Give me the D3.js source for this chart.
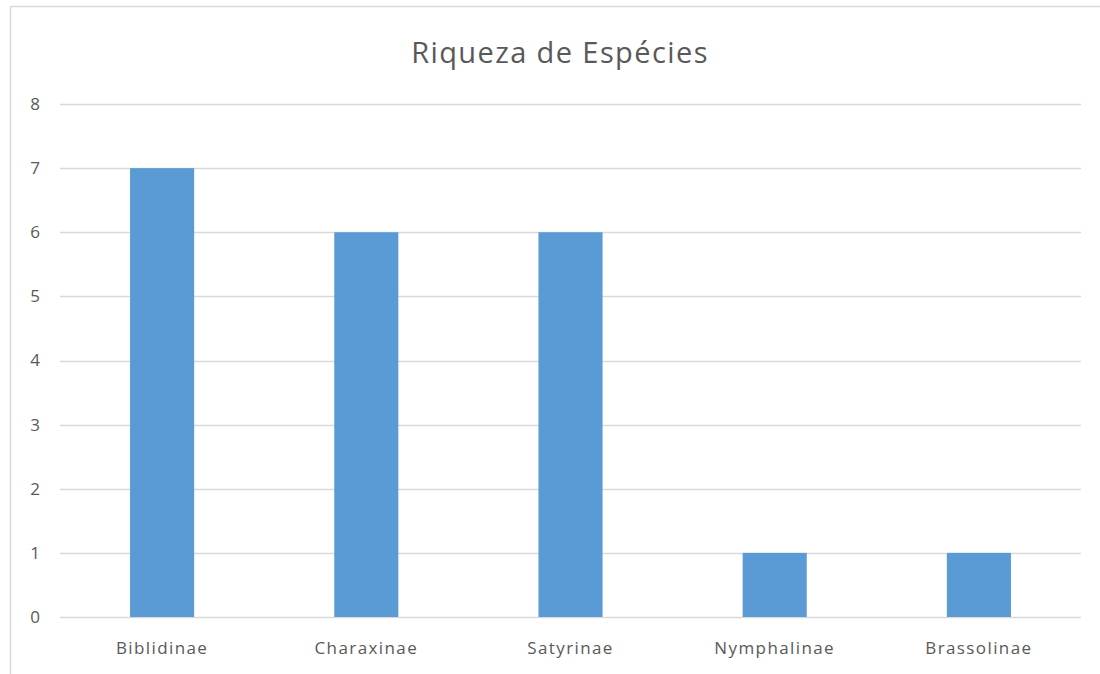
<!DOCTYPE html>
<html>
<head>
<meta charset="utf-8">
<script src="https://cdn.jsdelivr.net/npm/d3@7"></script>
<style>
	body { margin: 0; background: #fff; }
	svg { display: block; font-family: "Open Sans", "Liberation Sans", sans-serif; }
</style>
</head>
<body>
<div id="chart"></div>
<script>
	var categories = ['Biblidinae', 'Charaxinae', 'Satyrinae', 'Nymphalinae', 'Brassolinae'];
	var values = [7, 6, 6, 1, 1];
	var yTicks = [0, 1, 2, 3, 4, 5, 6, 7, 8];
	var chartTitle = 'Riqueza de Espécies';

	(function () {
		'use strict';

		var width = 1100, height = 674;
		var plotLeft = 60, plotRight = 1081, plotTop = 104, plotBottom = 617;

		var svg = d3.select('#chart').append('svg')
			.attr('width', width)
			.attr('height', height);

		// chart frame (runs off right/bottom edge in the original)
		svg.append('rect')
			.attr('x', 10.5).attr('y', 6.5)
			.attr('width', 1200).attr('height', 800)
			.attr('fill', '#fff')
			.attr('stroke', '#d9d9d9')
			.attr('stroke-width', 1.5);

		var x = d3.scaleBand()
			.domain(categories)
			.range([plotLeft, plotRight])
			.paddingInner(0.686)
			.paddingOuter(0.343);

		var y = d3.scaleLinear()
			.domain([0, 8])
			.range([plotBottom, plotTop]);

		// gridlines
		svg.append('g')
			.selectAll('line')
			.data(yTicks)
			.join('line')
			.attr('x1', plotLeft).attr('x2', plotRight)
			.attr('y1', function (d) { return Math.round(y(d)) + 0.5; })
			.attr('y2', function (d) { return Math.round(y(d)) + 0.5; })
			.attr('stroke', '#d9d9d9')
			.attr('stroke-width', 1.5);

		// y labels
		svg.append('g')
			.selectAll('text')
			.data(yTicks)
			.join('text')
			.attr('x', 40)
			.attr('y', function (d) { return y(d); })
			.attr('dy', '0.35em')
			.attr('text-anchor', 'end')
			.attr('fill', '#595959')
			.style('font-size', '17px')
			.text(function (d) { return d; });

		// bars
		svg.append('g')
			.selectAll('rect')
			.data(values)
			.join('rect')
			.attr('x', function (d, i) { return x(categories[i]); })
			.attr('y', function (d) { return y(d); })
			.attr('width', x.bandwidth())
			.attr('height', function (d) { return y(0) - y(d); })
			.attr('fill', '#5b9bd5');

		// x labels
		svg.append('g')
			.selectAll('text')
			.data(categories)
			.join('text')
			.attr('x', function (d) { return x(d) + x.bandwidth() / 2; })
			.attr('y', 654)
			.attr('text-anchor', 'middle')
			.attr('fill', '#595959')
			.style('font-size', '17px')
			.style('letter-spacing', '1.4px')
			.text(function (d) { return d; });

		svg.append('text')
			.attr('x', 560)
			.attr('y', 63)
			.attr('text-anchor', 'middle')
			.attr('fill', '#595959')
			.style('font-size', '29px')
			.style('letter-spacing', '1.4px')
			.text(chartTitle);
	}());
</script>
</body>
</html>
